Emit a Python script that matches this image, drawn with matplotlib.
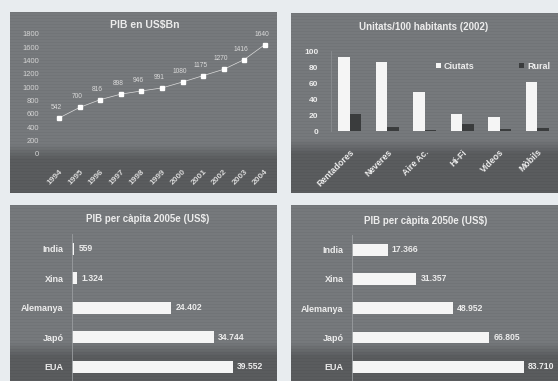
import matplotlib.pyplot as plt
import numpy as np

# constants
W, H = 558, 381
my_dpi = 100
BG = '#e8ecef'
TXT = '#ececec'
plt.rcParams['font.family'] = ['Liberation Sans', 'DejaVu Sans']

# data
years = ['1994', '1995', '1996', '1997', '1998', '1999', '2000', '2001', '2002', '2003', '2004']
pib = [542, 700, 816, 898, 946, 991, 1080, 1175, 1270, 1416, 1640]

aparells = ['Rentadores', 'Neveres', 'Aire Ac.', 'Hi-Fi', 'Vídeos', 'Mòbils']
ciutats = [92, 86, 49, 21, 18, 61]
rural = [21, 5, 1, 9, 2, 4]

paisos = ['India', 'Xina', 'Alemanya', 'Japó', 'EUA']
pib_cap_2005 = [559, 1324, 24402, 34744, 39552]
pib_cap_2050 = [17366, 31357, 48952, 66805, 83710]


def box(x0, y0, x1, y1):
    # pixel box (top-left origin) -> figure fraction rect
    return [x0 / W, 1 - y1 / H, (x1 - x0) / W, (y1 - y0) / H]


def panel(fig, x0, y0, x1, y1, dark_from):
    ax = fig.add_axes(box(x0, y0, x1, y1), zorder=0)
    h = int(y1 - y0)
    top = np.array([118, 121, 124]) / 255.
    low = np.array([90, 92, 94]) / 255.
    t = np.clip((np.arange(h) / h - dark_from) / 0.08, 0, 1)
    col = top[None, :] * (1 - t[:, None]) + low[None, :] * t[:, None]
    col[::3] *= 0.96  # faint scan lines
    ax.imshow(col[:, None, :], aspect='auto', interpolation='nearest', extent=[0, 1, 0, 1])
    ax.axis('off')


def pix_text(fig, x, y, s, **kw):
    fig.text(x / W, 1 - y / H, s, **kw)


def clean(ax):
    ax.set_facecolor('none')
    for s in ax.spines.values():
        s.set_visible(False)
    ax.tick_params(length=0)


def thousands(v):
    return f"{v:,}".replace(',', '.')


fig = plt.figure(figsize=(W / my_dpi, H / my_dpi), dpi=my_dpi)
fig.patch.set_facecolor(BG)

panel(fig, 10, 12, 277, 193, 0.73)
panel(fig, 291, 13, 558, 193, 0.70)
panel(fig, 10, 205, 277, 381, 0.78)
panel(fig, 291, 205, 558, 381, 0.78)

# PIB line chart
ax1 = fig.add_axes(box(49, 34, 275, 154), zorder=2)
clean(ax1)
x = np.arange(len(years))
ax1.plot(x, pib, color='#dcdcdc', lw=0.5, marker='s', ms=2.2, mfc='white', mec='white')
for xi, v in zip(x, pib):
    ax1.annotate(str(v), (xi, v), xytext=(-2, 5), textcoords='offset points',
                 ha='center', va='bottom', fontsize=4.8, color='#dadada')
ax1.set_xlim(-0.5, 10.5)
ax1.set_ylim(0, 1800)
ax1.set_yticks(range(0, 1801, 200))
ax1.set_yticklabels([str(v) for v in range(0, 1801, 200)], fontsize=5.4, color='#d4d4d4')
ax1.tick_params(axis='y', pad=7)
ax1.set_xticks(x)
ax1.set_xticklabels(years, rotation=45, ha='right', rotation_mode='anchor',
                    fontsize=6, color='#d8d8d8', fontweight='bold')
ax1.tick_params(axis='x', pad=10)
pix_text(fig, 145, 25, 'PIB en US$Bn', ha='center', va='center', fontsize=7.5,
         fontweight='bold', color=TXT)

# equipment bar chart
ax2 = fig.add_axes(box(331, 51, 556, 131), zorder=2)
clean(ax2)
ax2.spines['left'].set_visible(True)
ax2.spines['left'].set_color('#8a8d90')
ax2.spines['left'].set_linewidth(0.6)
g = np.arange(len(aparells))
ax2.bar(g - 0.155, ciutats, width=0.3, color='#f5f5f5', label='Ciutats')
ax2.bar(g + 0.155, rural, width=0.3, color='#3a3c3d', label='Rural')
ax2.set_xlim(-0.5, 5.5)
ax2.set_ylim(0, 100)
ax2.set_yticks(range(0, 101, 20))
ax2.set_yticklabels([str(v) for v in range(0, 101, 20)], fontsize=6, color=TXT,
                    fontweight='bold')
ax2.tick_params(axis='y', pad=9)
ax2.set_xticks(g)
ax2.set_xticklabels(aparells, rotation=45, ha='right', rotation_mode='anchor',
                    fontsize=6.3, color=TXT, fontweight='bold')
ax2.tick_params(axis='x', pad=12)
leg = ax2.legend(ncol=2, frameon=False, loc='center right', bbox_to_anchor=(0.99, 0.81),
                 fontsize=6.5, handlelength=0.6, handleheight=0.6, handletextpad=0.3,
                 columnspacing=4.9, borderaxespad=0)
for t in leg.get_texts():
    t.set_color(TXT)
    t.set_fontweight('bold')
pix_text(fig, 424, 27, 'Unitats/100 habitants (2002)', ha='center', va='center',
         fontsize=7, fontweight='bold', color=TXT)


def hbars(rect, vals, xmax, title, tx, ty):
    ax = fig.add_axes(box(*rect), zorder=2)
    clean(ax)
    ax.spines['left'].set_visible(True)
    ax.spines['left'].set_color('#9a9da0')
    ax.spines['left'].set_linewidth(0.6)
    y = np.arange(len(paisos))
    bars = ax.barh(y, vals, height=0.4, color='#f5f5f5')
    ax.bar_label(bars, labels=[thousands(v) for v in vals], padding=3,
                 fontsize=6.2, color=TXT, fontweight='bold')
    ax.set_xlim(0, xmax)
    ax.set_ylim(4.48, -0.5)
    ax.set_xticks([])
    ax.set_yticks(y)
    ax.set_yticklabels(paisos, fontsize=6.5, color=TXT, fontweight='bold')
    ax.tick_params(axis='y', pad=6)
    pix_text(fig, tx, ty, title, ha='center', va='center', fontsize=7,
             fontweight='bold', color=TXT)


hbars((72, 234, 270, 381), pib_cap_2005, 48600, 'PIB per càpita 2005e (US$)', 148, 219)
hbars((352, 235, 550, 381), pib_cap_2050, 96400, 'PIB per càpita 2050e (US$)', 426, 221)

fig.savefig('out.png', dpi=my_dpi, facecolor=fig.get_facecolor())
